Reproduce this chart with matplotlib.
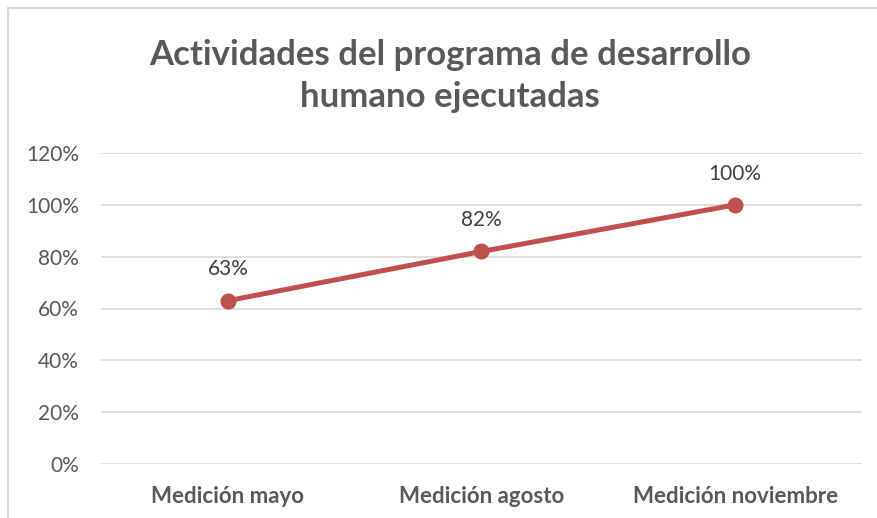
import matplotlib.pyplot as plt
from matplotlib.lines import Line2D
from matplotlib.ticker import FuncFormatter

# Data
categories = ["Medición mayo", "Medición agosto", "Medición noviembre"]
values = [0.63, 0.82, 1.00]
value_labels = ["63%", "82%", "100%"]
y_ticks = [0, 0.2, 0.4, 0.6, 0.8, 1.0, 1.2]

plt.rcParams["font.family"] = ["Lato", "DejaVu Sans"]

W, H = 878, 518
fig = plt.figure(figsize=(W / 100, H / 100), dpi=100)
ax = fig.add_axes([101 / W, 1 - 464 / H, (862 - 101) / W, (464 - 153) / H])

x = list(range(len(categories)))
ax.plot(x, values, color="#C0504D", linewidth=3.6, marker="o",
        markersize=10.5, solid_capstyle="round", zorder=3)

for xi, v, lab in zip(x, values, value_labels):
    ax.annotate(lab, (xi, v), xytext=(0, 22.5), textcoords="offset points",
                ha="center", va="center", fontsize=15, color="#404040")

ax.set_xlim(-0.5, len(categories) - 0.5)
ax.set_ylim(0, 1.2)
ax.set_yticks(y_ticks)
ax.yaxis.set_major_formatter(FuncFormatter(lambda v, _: f"{v * 100:.0f}%"))
ax.set_xticks(x)
ax.set_xticklabels(categories, fontsize=16, fontweight="bold", color="#595959")
ax.tick_params(axis="y", labelsize=15, labelcolor="#595959", length=0, pad=16)
ax.tick_params(axis="x", length=0, pad=16)
ax.grid(axis="y", color="#D9D9D9", linewidth=1.2)
ax.set_axisbelow(True)
for s in ax.spines.values():
    s.set_visible(False)

fig.text(450 / W, 1 - 76 / H, "Actividades del programa de desarrollo\nhumano ejecutadas",
         ha="center", va="center", fontsize=25, fontweight="bold",
         color="#595959", linespacing=1.4)

# chart frame (top and left edges visible)
fig.add_artist(Line2D([8 / W, 1], [1 - 8 / H, 1 - 8 / H], color="#D9D9D9", linewidth=1.5))
fig.add_artist(Line2D([8 / W, 8 / W], [0, 1 - 8 / H], color="#D9D9D9", linewidth=1.5))

fig.savefig("out.png", dpi=100)
